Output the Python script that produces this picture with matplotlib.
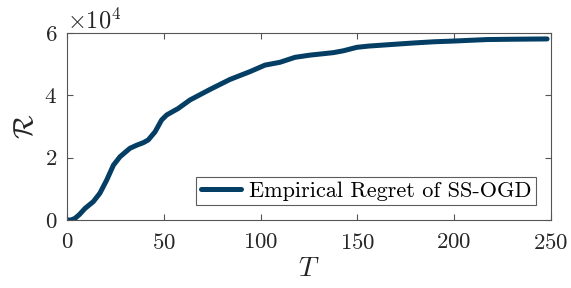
import matplotlib
matplotlib.use("Agg")
import matplotlib.pyplot as plt

plt.rcParams['font.family'] = 'serif'
plt.rcParams['font.serif'] = ['cmr10', 'DejaVu Serif']
plt.rcParams['mathtext.fontset'] = 'cm'
plt.rcParams['axes.unicode_minus'] = False
plt.rcParams['axes.formatter.use_mathtext'] = True

T_vals = [0, 2, 4.1, 6.5, 9.3, 13.6, 17, 20.5, 24, 27.4, 32.5, 36, 39.4, 42, 45.5, 48.9,
          51.5, 57.5, 63.5, 73.9, 84.2, 94.5, 102.3, 110, 117.8, 125.5, 137.6, 142.8,
          149.7, 155.7, 165, 179, 190, 199, 217, 230, 248]
regret = [0, 0.0, 0.05, 0.18, 0.37, 0.59, 0.86, 1.28, 1.76, 2.03, 2.3, 2.4, 2.48, 2.57,
          2.83, 3.21, 3.37, 3.58, 3.85, 4.19, 4.51, 4.76, 4.97, 5.06, 5.22, 5.29, 5.37,
          5.43, 5.54, 5.58, 5.62, 5.68, 5.72, 5.74, 5.79, 5.8, 5.81]
regret = [r * 1e4 for r in regret]

fig = plt.figure(figsize=(5.71, 2.88), dpi=100)
ax = fig.add_axes([0.1173, 0.2361, 0.8476, 0.6493])

ax.plot(T_vals, regret, color='#043e64', linewidth=3.6,
        solid_joinstyle='round', solid_capstyle='round',
        label='Empirical Regret of SS-OGD')

ax.set_xlim(0, 250)
ax.set_ylim(0, 6e4)
ax.set_xticks([0, 50, 100, 150, 200, 250])
ax.set_yticks([0, 2e4, 4e4, 6e4])
ax.ticklabel_format(axis='y', style='sci', scilimits=(4, 4))
ax.yaxis.get_offset_text().set_fontsize(17.5)
ax.yaxis.get_offset_text().set_y(1.02)

gray = '#262626'
for s in ax.spines.values():
    s.set_color('#555555')
    s.set_linewidth(0.8)
ax.tick_params(direction='in', length=4, width=0.8, top=True, right=True,
               labelsize=16.5, colors='#555555', labelcolor=gray)
ax.tick_params(axis='x', pad=9)
ax.tick_params(axis='y', pad=7)

ax.set_xlabel(r'$T$', fontsize=20, color=gray, labelpad=2)
ax.set_ylabel(r'$\mathcal{R}$', fontsize=20, color=gray, labelpad=4)

leg = ax.legend(loc='lower right', fontsize=16, frameon=True, fancybox=False,
                handlelength=1.8, handletextpad=0.4, borderpad=0.2,
                borderaxespad=0, bbox_to_anchor=(0.97, 0.08))
leg.get_frame().set_edgecolor('#333333')
leg.get_frame().set_linewidth(0.8)

fig.savefig('out.png', dpi=100)
